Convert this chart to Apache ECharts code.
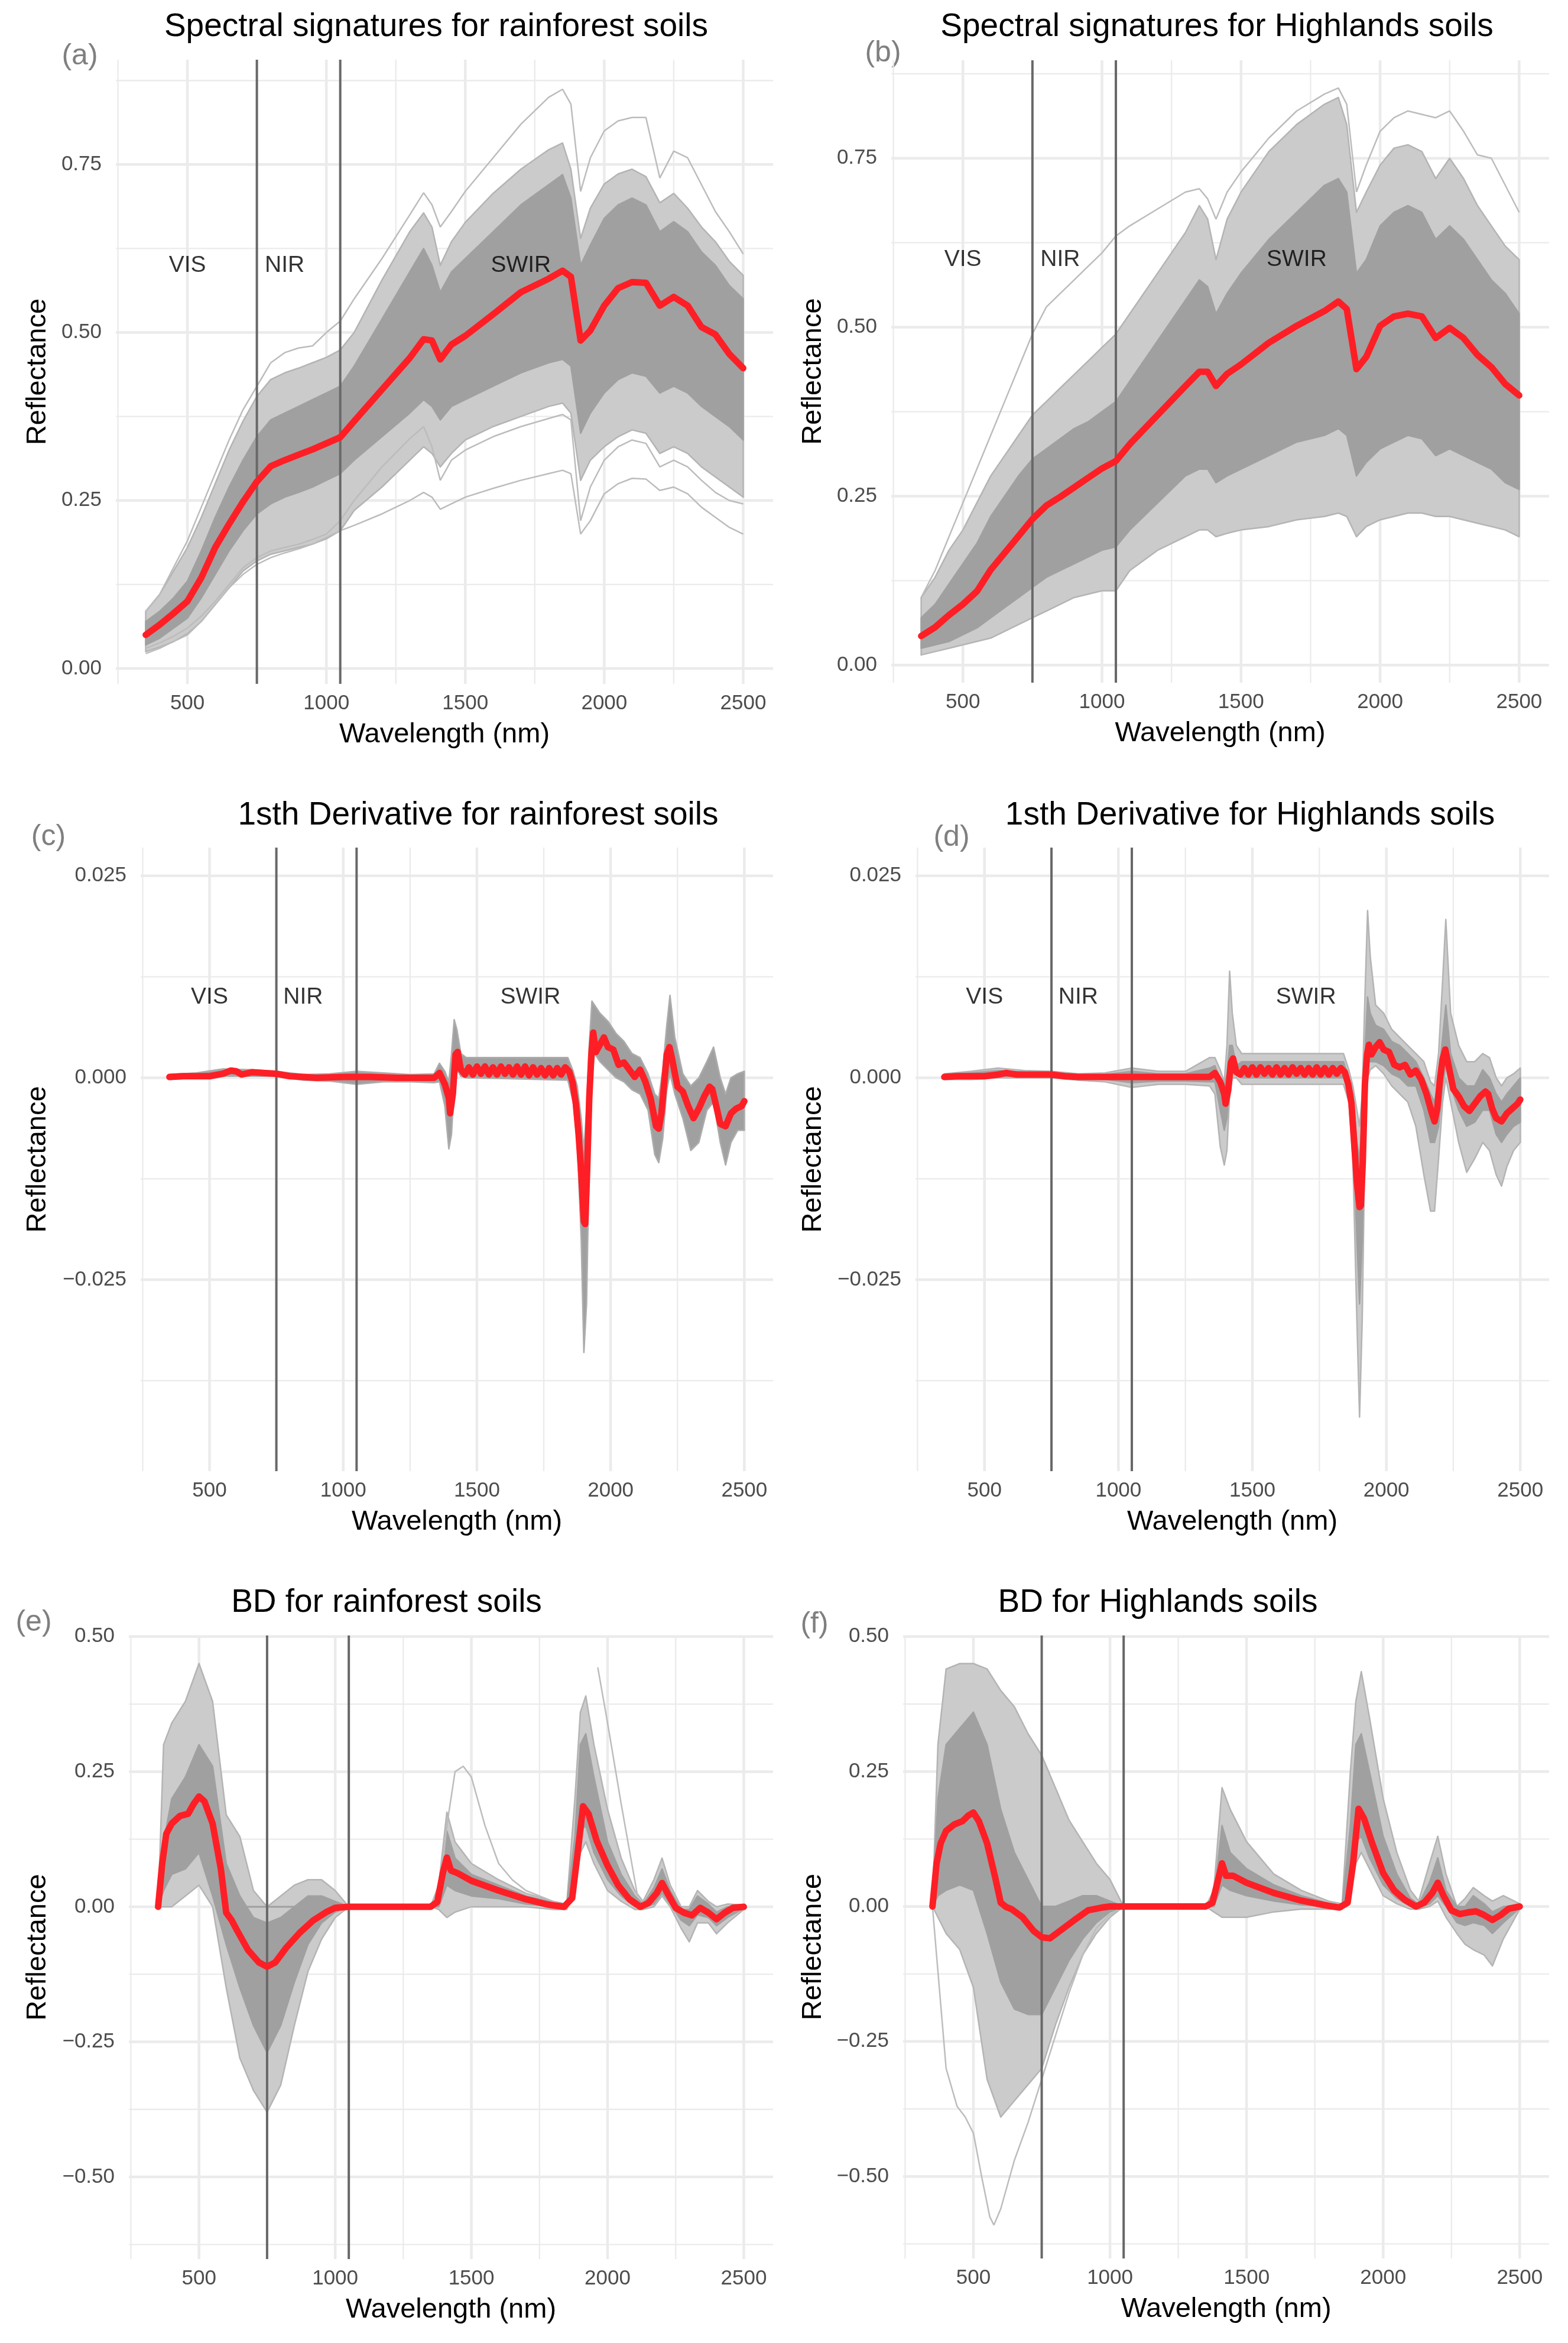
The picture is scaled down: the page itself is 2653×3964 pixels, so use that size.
<!DOCTYPE html>
<html>
<head>
<meta charset="utf-8">
<title>Spectral signatures, 1st derivative and BD</title>
<script src="https://cdn.jsdelivr.net/npm/echarts@6/dist/echarts.min.js"></script>
<style>
  html, body { margin: 0; padding: 0; background: #fff; }
  #chart { width: 2653px; height: 3964px; }
</style>
</head>
<body>
<div id="chart"></div>
<script>
// ---- wavelengths ----
const wlSpec = [350,400,450,500,550,600,650,700,750,800,850,900,950,1000,1050,1100,1200,1300,1350,1380,1410,1450,1500,1600,1700,1800,1850,1880,1915,1950,2000,2050,2100,2150,2200,2250,2300,2350,2400,2450,2500];

// ---- (a) rainforest reflectance ----
const rfMean   = [0.050,0.065,0.082,0.100,0.135,0.180,0.215,0.248,0.278,0.301,0.310,0.318,0.326,0.335,0.344,0.368,0.415,0.462,0.490,0.488,0.460,0.482,0.495,0.527,0.560,0.580,0.592,0.583,0.488,0.503,0.540,0.566,0.575,0.574,0.540,0.553,0.540,0.508,0.497,0.468,0.447];
const rfHi     = [0.085,0.110,0.145,0.180,0.225,0.275,0.325,0.368,0.405,0.430,0.440,0.447,0.455,0.463,0.474,0.500,0.578,0.650,0.678,0.657,0.600,0.635,0.664,0.707,0.743,0.772,0.782,0.743,0.640,0.685,0.721,0.736,0.743,0.732,0.693,0.707,0.685,0.657,0.635,0.606,0.585];
const rfLo     = [0.025,0.032,0.040,0.052,0.070,0.095,0.120,0.145,0.160,0.170,0.175,0.180,0.185,0.193,0.205,0.235,0.270,0.310,0.330,0.320,0.300,0.320,0.340,0.360,0.375,0.390,0.395,0.380,0.280,0.310,0.330,0.345,0.355,0.350,0.320,0.330,0.320,0.300,0.285,0.270,0.255];
const rfCoreHi = [0.070,0.085,0.105,0.130,0.175,0.225,0.270,0.310,0.345,0.370,0.380,0.390,0.400,0.410,0.420,0.450,0.520,0.590,0.625,0.600,0.560,0.590,0.610,0.650,0.690,0.720,0.735,0.700,0.600,0.630,0.670,0.690,0.700,0.690,0.650,0.665,0.650,0.620,0.600,0.570,0.550];
const rfCoreLo = [0.035,0.045,0.060,0.075,0.105,0.140,0.175,0.205,0.230,0.245,0.255,0.262,0.270,0.280,0.290,0.310,0.345,0.380,0.400,0.390,0.370,0.390,0.400,0.420,0.440,0.455,0.460,0.450,0.350,0.380,0.410,0.430,0.440,0.435,0.410,0.420,0.410,0.390,0.375,0.360,0.340];
const rfTop    = [0.085,0.110,0.150,0.190,0.240,0.290,0.340,0.385,0.420,0.455,0.470,0.477,0.480,0.500,0.517,0.550,0.610,0.675,0.708,0.690,0.657,0.680,0.710,0.760,0.810,0.850,0.862,0.840,0.710,0.760,0.800,0.815,0.820,0.820,0.730,0.770,0.760,0.720,0.680,0.650,0.617];
const rfBot    = [0.022,0.030,0.040,0.050,0.070,0.095,0.120,0.140,0.155,0.165,0.172,0.178,0.185,0.195,0.205,0.213,0.230,0.250,0.262,0.255,0.237,0.245,0.255,0.268,0.280,0.290,0.295,0.290,0.200,0.220,0.260,0.275,0.283,0.282,0.265,0.270,0.260,0.240,0.225,0.210,0.200];
const rfBot2   = [0.030,0.038,0.048,0.060,0.078,0.100,0.125,0.150,0.165,0.175,0.180,0.185,0.192,0.200,0.220,0.250,0.300,0.342,0.360,0.330,0.280,0.310,0.325,0.345,0.360,0.372,0.378,0.370,0.220,0.270,0.310,0.330,0.340,0.335,0.300,0.310,0.300,0.280,0.262,0.250,0.245];

// ---- (b) highlands reflectance ----
const hlMean   = [0.043,0.056,0.074,0.090,0.109,0.141,0.166,0.191,0.216,0.236,0.249,0.263,0.277,0.291,0.302,0.327,0.370,0.413,0.434,0.434,0.413,0.431,0.445,0.477,0.502,0.524,0.538,0.527,0.438,0.456,0.502,0.516,0.520,0.516,0.484,0.499,0.484,0.459,0.441,0.416,0.399];
const hlHi     = [0.100,0.130,0.170,0.200,0.240,0.280,0.310,0.340,0.370,0.390,0.410,0.430,0.450,0.470,0.490,0.520,0.580,0.640,0.680,0.660,0.600,0.660,0.700,0.760,0.800,0.830,0.840,0.800,0.670,0.700,0.740,0.765,0.770,0.760,0.720,0.750,0.720,0.680,0.650,0.620,0.600];
const hlLo     = [0.015,0.020,0.025,0.030,0.035,0.040,0.050,0.060,0.070,0.080,0.090,0.100,0.105,0.110,0.110,0.140,0.170,0.190,0.200,0.200,0.190,0.195,0.200,0.205,0.215,0.220,0.225,0.220,0.190,0.205,0.215,0.220,0.225,0.225,0.220,0.220,0.215,0.210,0.205,0.200,0.190];
const hlCoreHi = [0.070,0.090,0.120,0.150,0.180,0.220,0.250,0.280,0.305,0.320,0.335,0.350,0.360,0.375,0.390,0.420,0.480,0.540,0.570,0.560,0.520,0.550,0.580,0.630,0.670,0.710,0.720,0.700,0.580,0.600,0.650,0.670,0.680,0.670,0.630,0.650,0.630,0.600,0.570,0.550,0.520];
const hlCoreLo = [0.025,0.030,0.035,0.045,0.055,0.070,0.085,0.100,0.115,0.130,0.140,0.150,0.160,0.170,0.175,0.200,0.240,0.280,0.290,0.290,0.270,0.280,0.290,0.310,0.330,0.340,0.350,0.340,0.280,0.300,0.320,0.330,0.340,0.335,0.310,0.320,0.310,0.300,0.290,0.270,0.260];
const hlTop    = [0.100,0.140,0.190,0.240,0.290,0.340,0.390,0.440,0.490,0.530,0.550,0.570,0.590,0.610,0.635,0.650,0.675,0.700,0.705,0.690,0.660,0.700,0.730,0.780,0.820,0.845,0.854,0.830,0.700,0.740,0.790,0.810,0.820,0.815,0.810,0.820,0.790,0.755,0.750,0.710,0.670];

// ---- 1st derivative ----
const wlDer = [350,450,550,650,750,850,950,1050,1150,1250,1340,1360,1380,1395,1405,1415,1425,1440,1460,1600,1840,1860,1875,1890,1900,1910,1920,1930,1940,1960,1990,2020,2050,2080,2110,2140,2165,2180,2195,2210,2222,2240,2270,2300,2330,2360,2385,2410,2430,2450,2475,2500];
const d1RfHi = [0.0004,0.0006,0.0011,0.0010,0.0008,0.0004,0.0005,0.0008,0.0006,0.0004,0.0005,0.0018,0.0008,-0.0005,0.0030,0.0072,0.0060,0.0030,0.0025,0.0025,0.0025,0.0008,-0.0010,-0.0050,-0.0090,-0.0040,0.0040,0.0095,0.0090,0.0080,0.0070,0.0055,0.0045,0.0030,0.0025,0.0005,-0.0020,-0.0025,0.0010,0.0065,0.0102,0.0050,0.0005,-0.0010,0.0000,0.0020,0.0038,0.0000,-0.0020,0.0000,0.0005,0.0008];
const d1RfLo = [-0.0002,0.0000,0.0002,0.0002,0.0002,-0.0003,-0.0004,-0.0008,-0.0005,-0.0005,-0.0006,-0.0005,-0.0035,-0.0088,-0.0070,-0.0010,0.0010,0.0002,0.0000,-0.0001,-0.0003,-0.0030,-0.0080,-0.0200,-0.0340,-0.0280,-0.0100,0.0000,0.0030,0.0020,0.0010,0.0000,-0.0005,-0.0015,-0.0020,-0.0040,-0.0095,-0.0105,-0.0075,-0.0015,0.0005,-0.0020,-0.0050,-0.0090,-0.0080,-0.0040,-0.0030,-0.0080,-0.0108,-0.0080,-0.0065,-0.0065];
const d1HlHi = [0.0005,0.0008,0.0012,0.0009,0.0008,0.0005,0.0006,0.0012,0.0008,0.0008,0.0025,0.0025,0.0010,-0.0005,0.0040,0.0132,0.0080,0.0040,0.0030,0.0030,0.0030,0.0010,-0.0010,-0.0040,-0.0060,-0.0020,0.0100,0.0207,0.0150,0.0090,0.0080,0.0060,0.0050,0.0040,0.0030,0.0020,-0.0005,-0.0010,0.0030,0.0120,0.0196,0.0080,0.0040,0.0020,0.0020,0.0030,0.0025,0.0000,-0.0010,0.0000,0.0005,0.0012];
const d1HlLo = [-0.0002,-0.0002,0.0000,0.0000,0.0000,-0.0003,-0.0005,-0.0012,-0.0008,-0.0008,-0.0010,-0.0020,-0.0085,-0.0108,-0.0090,-0.0020,0.0000,0.0000,-0.0008,-0.0008,-0.0008,-0.0030,-0.0100,-0.0300,-0.0420,-0.0300,-0.0080,0.0000,0.0010,0.0015,0.0005,-0.0010,-0.0020,-0.0030,-0.0060,-0.0120,-0.0165,-0.0165,-0.0100,-0.0030,0.0000,-0.0030,-0.0080,-0.0117,-0.0100,-0.0080,-0.0090,-0.0120,-0.0134,-0.0110,-0.0090,-0.0080];
const d1HlCoreHi = [0.0004,0.0006,0.0009,0.0007,0.0006,0.0003,0.0004,0.0008,0.0005,0.0005,0.0012,0.0015,-0.0002,-0.0010,0.0005,0.0040,0.0040,0.0015,0.0020,0.0020,0.0020,0.0000,-0.0020,-0.0080,-0.0100,-0.0050,0.0030,0.0100,0.0080,0.0065,0.0060,0.0045,0.0040,0.0030,0.0020,0.0000,-0.0020,-0.0030,0.0000,0.0050,0.0090,0.0030,0.0000,-0.0010,-0.0010,0.0010,0.0000,-0.0020,-0.0030,-0.0020,-0.0010,0.0000];
const d1HlCoreLo = [0.0000,0.0000,0.0002,0.0002,0.0002,0.0000,-0.0002,-0.0006,-0.0004,-0.0004,-0.0005,-0.0005,-0.0040,-0.0065,-0.0050,0.0005,0.0010,0.0003,0.0000,0.0000,0.0000,-0.0015,-0.0060,-0.0200,-0.0280,-0.0200,-0.0040,0.0020,0.0020,0.0020,0.0015,0.0005,0.0000,-0.0010,-0.0010,-0.0040,-0.0080,-0.0080,-0.0060,-0.0010,0.0015,-0.0010,-0.0040,-0.0060,-0.0055,-0.0040,-0.0040,-0.0070,-0.0080,-0.0070,-0.0060,-0.0055];

const wlDerMean = [350,400,450,500,550,580,600,620,660,700,750,800,850,900,1000,1100,1200,1300,1340,1360,1380,1395,1400,1410,1420,1428,1440,1455,
  1470,1485,1500,1515,1530,1545,1560,1575,1590,1605,1620,1635,1650,1665,1680,1695,1710,1725,1740,1755,1770,1785,1800,1815,1830,
  1845,1858,1870,1880,1890,1900,1905,1912,1920,1928,1935,1945,1960,1975,1990,2010,2030,2050,2070,2090,2110,2130,2150,2170,2180,2190,2200,2210,2220,2230,2250,2270,2290,2310,2330,2350,2370,2380,2395,2410,2430,2450,2470,2490,2500];
const d1RfMean = [0.0001,0.0002,0.0002,0.0002,0.0005,0.0009,0.0008,0.0004,0.0007,0.0006,0.0005,0.0002,0.0001,0.0000,0.0001,0.0001,0.0000,0.0000,0.0000,0.0006,-0.0008,-0.0025,-0.0044,-0.0020,0.0029,0.0032,0.0010,0.0004,
  0.0013,0.0004,0.0014,0.0005,0.0014,0.0004,0.0013,0.0004,0.0014,0.0005,0.0013,0.0004,0.0014,0.0004,0.0014,0.0003,0.0013,0.0004,0.0012,0.0003,0.0012,0.0003,0.0012,0.0004,0.0013,
  0.0008,-0.0006,-0.0032,-0.0069,-0.0117,-0.0178,-0.0181,-0.0117,-0.0026,0.0029,0.0056,0.0032,0.0041,0.0050,0.0038,0.0035,0.0016,0.0019,0.0010,0.0001,0.0010,-0.0005,-0.0026,-0.0060,-0.0063,-0.0044,-0.0008,0.0029,0.0038,0.0023,-0.0011,-0.0017,-0.0035,-0.0050,-0.0038,-0.0023,-0.0011,-0.0014,-0.0035,-0.0057,-0.0060,-0.0044,-0.0038,-0.0035,-0.0029];
const d1HlMean = [0.0001,0.0002,0.0002,0.0002,0.0004,0.0006,0.0005,0.0004,0.0004,0.0004,0.0004,0.0002,0.0001,0.0001,0.0001,0.0001,0.0001,0.0001,0.0001,0.0006,-0.0005,-0.0020,-0.0032,-0.0015,0.0019,0.0024,0.0007,0.0004,
  0.0012,0.0004,0.0013,0.0004,0.0013,0.0005,0.0012,0.0004,0.0013,0.0004,0.0012,0.0004,0.0013,0.0005,0.0012,0.0004,0.0012,0.0004,0.0013,0.0004,0.0012,0.0004,0.0012,0.0005,0.0012,
  0.0007,-0.0008,-0.0032,-0.0081,-0.0130,-0.0160,-0.0158,-0.0105,-0.0008,0.0029,0.0041,0.0029,0.0038,0.0044,0.0035,0.0032,0.0016,0.0013,0.0016,0.0004,0.0009,-0.0002,-0.0020,-0.0044,-0.0054,-0.0038,-0.0002,0.0023,0.0035,0.0019,-0.0014,-0.0023,-0.0035,-0.0041,-0.0032,-0.0023,-0.0017,-0.0020,-0.0038,-0.0050,-0.0054,-0.0044,-0.0038,-0.0032,-0.0027];

// ---- BD ----
const wlBd = [350,370,400,450,500,550,600,650,700,750,800,850,900,950,1000,1050,1350,1380,1410,1440,1500,1600,1700,1800,1850,1880,1900,1920,1950,2000,2050,2100,2130,2170,2200,2230,2270,2300,2330,2370,2400,2440,2500];
const bdRfHi     = [0,0.30,0.34,0.38,0.45,0.38,0.17,0.13,0.03,0.00,0.02,0.04,0.05,0.05,0.03,0,0,0.04,0.175,0.12,0.08,0.05,0.025,0.01,0.005,0.20,0.36,0.39,0.30,0.18,0.09,0.03,0.01,0.05,0.09,0.04,0.00,0.00,0.03,0.01,0.00,0.005,0.003];
const bdRfLo     = [0,0.00,0.00,0.02,0.04,0.00,-0.15,-0.28,-0.34,-0.38,-0.33,-0.22,-0.12,-0.06,-0.02,0,0,-0.005,-0.02,-0.01,0.00,0.00,0.00,-0.005,-0.005,0.03,0.10,0.12,0.08,0.03,0.01,-0.005,-0.005,0.00,0.02,0.00,-0.04,-0.065,-0.03,-0.03,-0.05,-0.03,-0.005];
const bdRfCoreHi = [0,0.12,0.20,0.24,0.30,0.26,0.08,0.02,-0.02,-0.03,-0.02,0.00,0.02,0.02,0.01,0,0,0.02,0.14,0.09,0.06,0.04,0.02,0.008,0.003,0.13,0.30,0.32,0.24,0.12,0.06,0.02,0.005,0.035,0.07,0.03,-0.005,-0.005,0.02,0.005,-0.01,0.00,0.002];
const bdRfCoreLo = [0,0.03,0.06,0.07,0.10,0.02,-0.07,-0.15,-0.22,-0.27,-0.22,-0.14,-0.07,-0.03,-0.01,0,0,0.00,0.04,0.03,0.02,0.015,0.005,0.00,-0.002,0.05,0.14,0.15,0.10,0.05,0.02,0.00,-0.003,0.005,0.025,0.005,-0.025,-0.035,-0.015,-0.02,-0.035,-0.02,-0.003];
const bdHlHi     = [0,0.30,0.44,0.45,0.45,0.44,0.40,0.37,0.32,0.28,0.22,0.16,0.12,0.08,0.05,0,0,0.03,0.22,0.18,0.12,0.06,0.03,0.01,0.005,0.25,0.38,0.435,0.35,0.20,0.10,0.03,0.01,0.08,0.13,0.06,0.00,0.015,0.035,0.02,0.01,0.02,0.005];
const bdHlLo     = [0,-0.02,-0.05,-0.08,-0.15,-0.32,-0.39,-0.36,-0.33,-0.30,-0.22,-0.15,-0.09,-0.05,-0.02,0,0,-0.01,-0.02,-0.02,-0.02,-0.01,-0.005,-0.005,-0.005,0.03,0.08,0.10,0.07,0.02,0.005,-0.005,-0.005,0.00,0.01,-0.02,-0.05,-0.07,-0.08,-0.09,-0.11,-0.06,-0.005];
const bdHlCoreHi = [0,0.20,0.30,0.33,0.36,0.30,0.18,0.10,0.05,0.00,0.00,0.01,0.02,0.02,0.01,0,0,0.015,0.15,0.10,0.07,0.04,0.02,0.006,0.002,0.15,0.30,0.32,0.25,0.13,0.06,0.015,0.004,0.045,0.09,0.03,0.00,0.00,0.02,0.005,-0.01,0.00,0.002];
const bdHlCoreLo = [0,0.02,0.03,0.04,0.03,-0.05,-0.14,-0.19,-0.20,-0.20,-0.15,-0.10,-0.06,-0.03,-0.01,0,0,0.00,0.04,0.03,0.02,0.01,0.003,0.00,-0.002,0.05,0.12,0.13,0.09,0.04,0.015,0.00,-0.003,0.005,0.02,0.00,-0.03,-0.035,-0.03,-0.035,-0.05,-0.03,-0.003];

const wlBdMean = [350,365,380,400,430,460,480,500,520,550,580,600,620,640,680,720,750,780,820,870,920,970,1000,1050,1350,1375,1395,1410,1425,1450,1500,1600,1700,1780,1840,1870,1890,1910,1930,1960,2000,2040,2080,2120,2150,2180,2200,2220,2250,2280,2310,2340,2370,2400,2430,2460,2500];
const bdRfMean = [0,0.080,0.135,0.154,0.168,0.172,0.190,0.204,0.195,0.154,0.071,-0.011,-0.025,-0.044,-0.080,-0.103,-0.111,-0.103,-0.076,-0.048,-0.025,-0.009,-0.002,0,0,0.009,0.062,0.091,0.067,0.062,0.048,0.030,0.014,0.004,0,0.016,0.099,0.186,0.172,0.122,0.076,0.039,0.014,0,0.007,0.025,0.044,0.025,-0.002,-0.011,-0.016,-0.002,-0.011,-0.023,-0.011,-0.002,0];
const bdHlMean = [0,0.080,0.117,0.140,0.152,0.158,0.168,0.174,0.158,0.117,0.053,0.007,-0.001,-0.005,-0.020,-0.045,-0.057,-0.059,-0.044,-0.025,-0.007,-0.002,0,0,0,0.007,0.048,0.080,0.057,0.057,0.044,0.025,0.011,0.003,-0.002,0.007,0.080,0.181,0.163,0.117,0.062,0.030,0.012,0,0.007,0.025,0.044,0.021,-0.007,-0.014,-0.011,-0.009,-0.016,-0.025,-0.016,-0.004,0];

// single light spectra standing out of the bundle in the BD panels
const bdRfBumpWl = [1350,1380,1410,1440,1470,1500,1550,1600,1650,1700,1800,1850];
const bdRfBump   = [0,0.010,0.150,0.250,0.260,0.240,0.150,0.080,0.050,0.030,0.010,0];
const bdRfLateWl = [1964,2000,2050,2110];
const bdRfLate   = [0.443,0.340,0.190,0.020];
const bdRfFlatWl = [580,1050];
const bdRfFlat   = [0,0];
const bdHlLowWl  = [350,370,400,440,470,500,530,560,575,600,650,700,750,800,850,900,950,1000,1050];
const bdHlLow    = [0,-0.12,-0.30,-0.37,-0.39,-0.42,-0.50,-0.575,-0.59,-0.56,-0.47,-0.40,-0.32,-0.24,-0.16,-0.09,-0.04,-0.015,0];
const bdHlFlatWl = [600,1050];
const bdHlFlat   = [0,0];

// ---- axes / annotations ----
const xMajor = [500,1000,1500,2000,2500];
const xMinor = [250,750,1250,1750,2250];
const regionBounds = [750,1050];
const regionNames = ['VIS','NIR','SWIR'];
const regionX = [500,850,1700];

const X_MIN = 242.5, X_MAX = 2607.5;
const FONT = '"Liberation Sans", Arial, Helvetica, sans-serif';
const GRID_C = '#ebebeb';
const OUTER = '#cbcbcb';
const OUTER_EDGE = '#b4b4b4';
const CORE = '#a0a0a0';
const LIGHT = '#bcbcbc';
const RED = '#fd1f25';

const panels = [
  { tag:'(a)', title:'Spectral signatures for rainforest soils', box:[196,101,1112,1056], yMin:-0.0229, yMax:0.906,
    yMajor:[0,0.25,0.5,0.75], yMinor:[0.125,0.375,0.625,0.875], digits:2, labelY:0.6,
    titleXY:[738,46], tagXY:[135,95], yTitleX:64,
    bands:[[wlSpec,rfLo,rfHi,OUTER,OUTER_EDGE],[wlSpec,rfCoreLo,rfCoreHi,CORE,CORE]],
    lines:[[wlSpec,rfTop],[wlSpec,rfBot],[wlSpec,rfBot2]], mean:[wlSpec,rfMean] },
  { tag:'(b)', title:'Spectral signatures for Highlands soils', box:[1508,102,1113,1053], yMin:-0.026, yMax:0.895,
    yMajor:[0,0.25,0.5,0.75], yMinor:[0.125,0.375,0.625,0.875], digits:2, labelY:0.6,
    titleXY:[2059,46], tagXY:[1494,90], yTitleX:1376,
    bands:[[wlSpec,hlLo,hlHi,OUTER,OUTER_EDGE],[wlSpec,hlCoreLo,hlCoreHi,CORE,CORE]],
    lines:[[wlSpec,hlTop]], mean:[wlSpec,hlMean] },
  { tag:'(c)', title:'1sth Derivative for rainforest soils', box:[238,1434,1070,1055], yMin:-0.0487, yMax:0.0285,
    yMajor:[-0.025,0,0.025], yMinor:[-0.0375,-0.0125,0.0125], digits:3, labelY:0.01,
    titleXY:[809,1380], tagXY:[82,1416], yTitleX:64,
    bands:[[wlDer,d1RfLo,d1RfHi,CORE,'#acacac']], lines:[], mean:[wlDerMean,d1RfMean] },
  { tag:'(d)', title:'1sth Derivative for Highlands soils', box:[1549,1434,1072,1055], yMin:-0.0487, yMax:0.0285,
    yMajor:[-0.025,0,0.025], yMinor:[-0.0375,-0.0125,0.0125], digits:3, labelY:0.01,
    titleXY:[2115,1380], tagXY:[1610,1417], yTitleX:1376,
    bands:[[wlDer,d1HlLo,d1HlHi,OUTER,OUTER_EDGE],[wlDer,d1HlCoreLo,d1HlCoreHi,CORE,CORE]], lines:[], mean:[wlDerMean,d1HlMean] },
  { tag:'(e)', title:'BD for rainforest soils', box:[218,2767,1090,1055], yMin:-0.652, yMax:0.502,
    yMajor:[-0.5,-0.25,0,0.25,0.5], yMinor:[-0.625,-0.375,-0.125,0.125,0.375], digits:2, labelY:null,
    titleXY:[654,2712], tagXY:[57,2745], yTitleX:64,
    bands:[[wlBd,bdRfLo,bdRfHi,OUTER,OUTER_EDGE],[wlBd,bdRfCoreLo,bdRfCoreHi,CORE,CORE]],
    lines:[[bdRfBumpWl,bdRfBump],[bdRfLateWl,bdRfLate],[bdRfFlatWl,bdRfFlat,CORE]], mean:[wlBdMean,bdRfMean] },
  { tag:'(f)', title:'BD for Highlands soils', box:[1528,2767,1093,1054], yMin:-0.652, yMax:0.502,
    yMajor:[-0.5,-0.25,0,0.25,0.5], yMinor:[-0.625,-0.375,-0.125,0.125,0.375], digits:2, labelY:null,
    titleXY:[1959,2712], tagXY:[1378,2748], yTitleX:1376,
    bands:[[wlBd,bdHlLo,bdHlHi,OUTER,OUTER_EDGE],[wlBd,bdHlCoreLo,bdHlCoreHi,CORE,CORE]],
    lines:[[bdHlLowWl,bdHlLow],[bdHlFlatWl,bdHlFlat,CORE]], mean:[wlBdMean,bdHlMean] }
];

function pairs(xs, ys) { return xs.map((x, i) => [x, ys[i]]); }
function fmt(v, d) { return (v < -1e-9 ? '\u2212' : '') + Math.abs(v).toFixed(d); }

const grids = [], xAxes = [], yAxes = [], series = [], graphics = [];

// straight rule across the panel, drawn through the panel's own axes
function rule(i, pts, color, width, z) {
  series.push({ type: 'line', xAxisIndex: i, yAxisIndex: i, z: z, silent: true, symbol: 'none',
    data: pts, lineStyle: { color: color, width: width } });
}

panels.forEach((p, i) => {
  const [left, top, width, height] = p.box;
  grids.push({ left, top, width, height, containLabel: false });
  xAxes.push({
    type: 'value', gridIndex: i, min: X_MIN, max: X_MAX,
    axisLine: { show: false }, axisTick: { show: false }, splitLine: { show: false },
    axisLabel: { customValues: xMajor, margin: 16, fontSize: 35, color: '#4d4d4d', fontFamily: FONT,
      formatter: v => String(Math.round(v)) }
  });
  yAxes.push({
    type: 'value', gridIndex: i, min: p.yMin, max: p.yMax,
    axisLine: { show: false }, axisTick: { show: false }, splitLine: { show: false },
    axisLabel: { customValues: p.yMajor, margin: 24, fontSize: 35, color: '#4d4d4d', fontFamily: FONT,
      formatter: v => fmt(v, p.digits) }
  });

  // panel grid (minor first, then major)
  xMinor.forEach(v => rule(i, [[v, p.yMin], [v, p.yMax]], GRID_C, 2.3, 0));
  p.yMinor.forEach(v => rule(i, [[X_MIN, v], [X_MAX, v]], GRID_C, 2.3, 0));
  xMajor.forEach(v => rule(i, [[v, p.yMin], [v, p.yMax]], GRID_C, 4.5, 1));
  p.yMajor.forEach(v => rule(i, [[X_MIN, v], [X_MAX, v]], GRID_C, 4.5, 1));

  // gray bundles
  p.bands.forEach(([wl, lo, hi, fill, edge]) => {
    series.push({
      type: 'custom', xAxisIndex: i, yAxisIndex: i, z: 2, silent: true,
      data: [[wl[0], lo[0]]],
      renderItem: (params, api) => {
        const pts = [];
        for (let k = 0; k < wl.length; k++) pts.push(api.coord([wl[k], hi[k]]));
        for (let k = wl.length - 1; k >= 0; k--) pts.push(api.coord([wl[k], lo[k]]));
        return { type: 'polygon', shape: { points: pts },
          style: { fill: fill, stroke: edge, lineWidth: 2.5, lineJoin: 'round' } };
      }
    });
  });
  p.lines.forEach(([wl, vals, color]) => {
    series.push({
      type: 'line', xAxisIndex: i, yAxisIndex: i, z: 2, silent: true, symbol: 'none',
      data: pairs(wl, vals), lineStyle: { color: color || LIGHT, width: color ? 3 : 2.5 }
    });
  });

  // region boundaries
  regionBounds.forEach(v => rule(i, [[v, p.yMin], [v, p.yMax]], '#686868', 4, 3));

  // region labels
  if (p.labelY !== null) {
    series.push({
      type: 'scatter', xAxisIndex: i, yAxisIndex: i, z: 5, silent: true, symbolSize: 1,
      itemStyle: { color: 'transparent' },
      data: regionNames.map((n, k) => ({ name: n, value: [regionX[k], p.labelY] })),
      label: { show: true, position: 'inside', formatter: '{b}', fontSize: 39, color: '#000', fontFamily: FONT }
    });
  }

  // mean spectrum
  series.push({
    type: 'line', xAxisIndex: i, yAxisIndex: i, z: 4, silent: true, symbol: 'none',
    data: pairs(p.mean[0], p.mean[1]),
    lineStyle: { color: RED, width: 11, cap: 'round', join: 'round' }
  });

  // texts
  graphics.push({ type: 'text', x: p.titleXY[0], y: p.titleXY[1], silent: true,
    style: { text: p.title, fill: '#000', font: '55px ' + FONT, align: 'center', verticalAlign: 'middle' } });
  graphics.push({ type: 'text', x: p.tagXY[0], y: p.tagXY[1], silent: true,
    style: { text: p.tag, fill: '#7f7f7f', font: '50px ' + FONT, align: 'center', verticalAlign: 'middle' } });
  graphics.push({ type: 'text', x: left + width / 2, y: top + height + 86, silent: true,
    style: { text: 'Wavelength (nm)', fill: '#000', font: '47px ' + FONT, align: 'center', verticalAlign: 'middle' } });
  graphics.push({ type: 'text', x: p.yTitleX, y: top + height / 2, rotation: Math.PI / 2, silent: true,
    style: { text: 'Reflectance', fill: '#000', font: '47px ' + FONT, align: 'center', verticalAlign: 'middle' } });
});

const chart = echarts.init(document.getElementById('chart'), null, { renderer: 'canvas' });
chart.setOption({
  backgroundColor: '#ffffff',
  animation: false,
  grid: grids,
  xAxis: xAxes,
  yAxis: yAxes,
  series: series,
  graphic: graphics
});
</script>
</body>
</html>
